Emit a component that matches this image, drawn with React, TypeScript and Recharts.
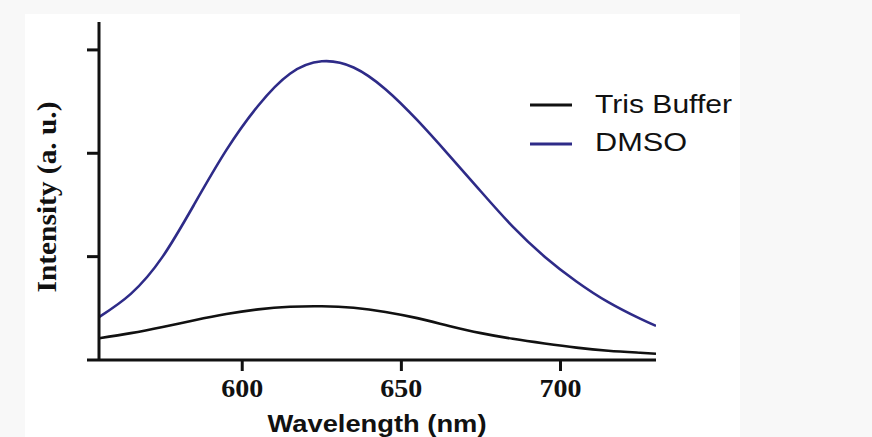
import React from 'react';
import { LineChart, Line, XAxis, YAxis } from 'recharts';

// wavelength (nm)
const wavelengths = [555, 565, 575, 585, 595, 605, 615, 625, 635, 645, 655, 665, 675, 685, 695, 705, 715, 725, 730];
// emission intensity, arbitrary units
const dmso = [0.415, 0.64, 1.0, 1.51, 2.03, 2.46, 2.77, 2.89, 2.83, 2.62, 2.32, 1.98, 1.63, 1.29, 1.0, 0.76, 0.56, 0.4, 0.33];
const tris = [0.21, 0.26, 0.32, 0.385, 0.445, 0.49, 0.515, 0.52, 0.505, 0.465, 0.405, 0.33, 0.26, 0.205, 0.16, 0.12, 0.09, 0.07, 0.06];
const xTicks = [600, 650, 700];
const yTicks = [0, 1, 2, 3];
const seriesNames = ['Tris Buffer', 'DMSO'];

const data = wavelengths.map((w, i) => ({ w, tris: tris[i], dmso: dmso[i] }));

const INK = '#111111';
const BLUE = '#2e2b88';
const SERIF = '"Liberation Serif", "Times New Roman", serif';
const SANS = '"Liberation Sans", Arial, sans-serif';

const XTick = (props: any) => (
  <text
    x={props.x}
    y={props.y + 26}
    textAnchor="middle"
    fontFamily={SERIF}
    fontWeight="bold"
    fontSize={26}
    fill={INK}
    textLength={42}
    lengthAdjust="spacingAndGlyphs"
  >
    {props.payload.value}
  </text>
);

// legend drawn beside the chart, same look as the original figure
const LegendBox = () => (
  <svg width={220} height={70} style={{ display: 'block' }}>
    <line x1={5} y1={15} x2={47} y2={15} stroke={INK} strokeWidth={3} />
    <text x={70} y={23} fontFamily={SANS} fontSize={25} fill={INK} textLength={137} lengthAdjust="spacingAndGlyphs">
      {seriesNames[0]}
    </text>
    <line x1={5} y1={54} x2={47} y2={54} stroke={BLUE} strokeWidth={3} />
    <text x={70} y={61} fontFamily={SANS} fontSize={25} fill={INK} textLength={92} lengthAdjust="spacingAndGlyphs">
      {seriesNames[1]}
    </text>
  </svg>
);

export default function App() {
  return (
    <div style={{ position: 'absolute', left: 0, top: 0, width: 872, height: 437, background: '#f8f8f8', overflow: 'hidden' }}>
      <div style={{ position: 'absolute', left: 25, top: 14, width: 715, height: 423, background: '#ffffff' }} />
      <div style={{ position: 'absolute', left: 0, top: 0 }}>
        <LineChart width={872} height={437} data={data} margin={{ top: 22, right: 216, bottom: 0, left: 0 }}>
          <XAxis
            dataKey="w"
            type="number"
            domain={[555, 730]}
            ticks={xTicks}
            allowDataOverflow
            height={77}
            tickSize={11}
            tickMargin={0}
            axisLine={{ stroke: INK, strokeWidth: 3 }}
            tickLine={{ stroke: INK, strokeWidth: 3 }}
            tick={<XTick />}
            label={{
              content: () => (
                <text x={377} y={432} textAnchor="middle" fontFamily={SANS} fontWeight="bold" fontSize={24} fill={INK} textLength={219} lengthAdjust="spacingAndGlyphs">
                  Wavelength (nm)
                </text>
              ),
            }}
          />
          <YAxis
            type="number"
            domain={[0, 3.27]}
            ticks={yTicks}
            allowDataOverflow
            width={99}
            tickSize={12}
            axisLine={{ stroke: INK, strokeWidth: 3 }}
            tickLine={{ stroke: INK, strokeWidth: 3 }}
            tick={() => <g />}
            label={{
              content: () => (
                <text x={56} y={197} transform="rotate(-90 56 197)" textAnchor="middle" fontFamily={SERIF} fontWeight="bold" fontSize={28} fill={INK} textLength={191} lengthAdjust="spacingAndGlyphs">
                  Intensity (a. u.)
                </text>
              ),
            }}
          />
          <Line type="natural" dataKey="tris" name={seriesNames[0]} stroke={INK} strokeWidth={2.6} dot={false} isAnimationActive={false} />
          <Line type="natural" dataKey="dmso" name={seriesNames[1]} stroke={BLUE} strokeWidth={2.6} dot={false} isAnimationActive={false} />
        </LineChart>
      </div>
      <div style={{ position: 'absolute', left: 525, top: 90 }}>
        <LegendBox />
      </div>
    </div>
  );
}
